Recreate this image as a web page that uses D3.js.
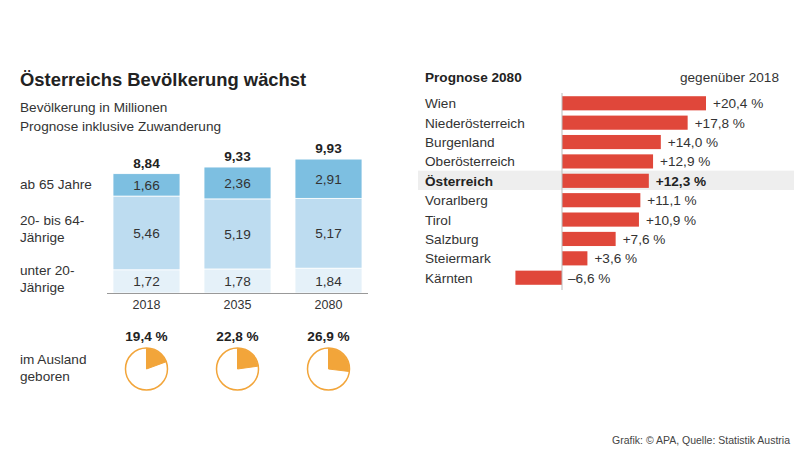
<!DOCTYPE html>
<html><head><meta charset="utf-8">
<script src="https://cdn.jsdelivr.net/npm/d3@7/dist/d3.min.js"></script>
<style>body{margin:0;background:#fff}svg{font-family:"Liberation Sans",Arial,sans-serif}</style>
</head><body>
<svg id="c" width="800" height="452"></svg>
<script>
const years = ["2018","2035","2080"];
const segments = ["unter 20-Jährige","20- bis 64-Jährige","ab 65 Jahre"];
const under20 = [1.72,1.78,1.84];
const age20to64 = [5.46,5.19,5.17];
const over65 = [1.66,2.36,2.91];
const totals = [8.84,9.33,9.93];
const foreignBorn = [19.4,22.8,26.9];
const regions = ["Wien","Niederösterreich","Burgenland","Oberösterreich","Österreich","Vorarlberg","Tirol","Salzburg","Steiermark","Kärnten"];
const change2080 = [20.4,17.8,14.0,12.9,12.3,11.1,10.9,7.6,3.6,-6.6];

const fmt = v => v.toFixed(2).replace(".", ",");
const fmt1 = v => v.toFixed(1).replace(".", ",");
const svg = d3.select("#c");
const txt = "#222";
const fs = 13.6;

// Left title
svg.append("text").attr("x",20).attr("y",86).attr("font-size",18.4).attr("font-weight","bold").attr("fill",txt).text("Österreichs Bevölkerung wächst");
svg.append("text").attr("x",20).attr("y",112).attr("font-size",fs).attr("fill","#333").text("Bevölkerung in Millionen");
svg.append("text").attr("x",20).attr("y",131).attr("font-size",fs).attr("fill","#333").text("Prognose inklusive Zuwanderung");

// stacked bars
const x = d3.scaleBand().domain(years).range([103.9,371.1]).paddingInner(0.264).paddingOuter(0.1);
const y = d3.scaleLinear().domain([0,10]).range([293,158]);
const data = years.map((yr,i)=>({yr, vals:[under20[i],age20to64[i],over65[i]], total:totals[i]}));
const stack = d3.stack().keys([0,1,2]).value((d,k)=>d.vals[k]);
const series = stack(data);
const colors = ["#e5f1f9","#bddcf0","#7dbfe1"];
series.forEach((s,k)=>{
  const g = svg.append("g");
  g.selectAll("rect").data(s).enter().append("rect")
    .attr("x",d=>x(d.data.yr)).attr("width",x.bandwidth())
    .attr("y",d=>y(d[1])).attr("height",d=>y(d[0])-y(d[1]))
    .attr("fill",colors[k]).attr("stroke","#fff").attr("stroke-width",0.8);
  g.selectAll("text").data(s).enter().append("text")
    .attr("x",d=>x(d.data.yr)+x.bandwidth()/2).attr("y",d=>(y(d[0])+y(d[1]))/2+5)
    .attr("text-anchor","middle").attr("font-size",fs).attr("fill","#333")
    .text(d=>fmt(d.data.vals[k]));
});
svg.selectAll(".tot").data(data).enter().append("text")
  .attr("x",d=>x(d.yr)+x.bandwidth()/2).attr("y",d=>y(d.total)-6)
  .attr("text-anchor","middle").attr("font-size",fs).attr("font-weight","bold").attr("fill",txt)
  .text(d=>fmt(d.total));
svg.append("line").attr("x1",107).attr("x2",368).attr("y1",293.5).attr("y2",293.5).attr("stroke","#999").attr("stroke-width",1);
const xAxis = d3.axisBottom(x).tickSize(0).tickPadding(7);
const ax = svg.append("g").attr("transform","translate(0,293)").call(xAxis);
ax.select(".domain").remove();
ax.selectAll("text").attr("font-size",12.5).attr("fill","#333").attr("font-family","Liberation Sans, Arial, sans-serif");

// row labels
const rowLab = [["ab 65 Jahre",189],["20- bis 64-",225],["Jährige",242],["unter 20-",275],["Jährige",292],["im Ausland",364],["geboren",381]];
svg.selectAll(".rl").data(rowLab).enter().append("text").attr("x",20).attr("y",d=>d[1])
  .attr("font-size",fs).attr("fill","#333").text(d=>d[0]);

// pies
const pctScale = d3.scaleLinear().domain([0,100]).range([0,2*Math.PI]);
const r = 21;
const arc = d3.arc().innerRadius(0).outerRadius(r-0.5);
years.forEach((yr,i)=>{
  const cx = x(yr)+x.bandwidth()/2, cy = 369;
  const g = svg.append("g").attr("transform",`translate(${cx},${cy})`);
  g.append("circle").attr("r",r).attr("fill","#fff").attr("stroke","#f2a53a").attr("stroke-width",1.5);
  g.append("path").attr("d",arc({startAngle:0,endAngle:pctScale(foreignBorn[i])})).attr("fill","#f2a53a").attr("stroke","#f2a53a").attr("stroke-width",1);
  svg.append("text").attr("x",cx).attr("y",341).attr("text-anchor","middle").attr("font-size",fs).attr("font-weight","bold").attr("fill",txt).text(fmt1(foreignBorn[i])+" %");
});

// Right chart
svg.append("text").attr("x",425).attr("y",82).attr("font-size",fs).attr("font-weight","bold").attr("fill",txt).text("Prognose 2080");
svg.append("text").attr("x",779).attr("y",82).attr("text-anchor","end").attr("font-size",fs).attr("fill","#333").text("gegenüber 2018");
const yb = d3.scaleBand().domain(regions).range([93.5,287.5]).paddingInner(0.27).paddingOuter(0.14);
const xb = d3.scaleLinear().domain([0,20.4]).range([562,706]);
const hi = "Österreich";
svg.append("rect").attr("x",418).attr("width",376).attr("y",yb(hi)-yb.step()*yb.paddingInner()/2-0.5).attr("height",yb.step()).attr("fill","#eeeeee");
svg.selectAll(".bar").data(regions).enter().append("rect")
  .attr("x",(d,i)=>xb(Math.min(0,change2080[i]))).attr("width",(d,i)=>Math.abs(xb(change2080[i])-xb(0)))
  .attr("y",d=>yb(d)).attr("height",yb.bandwidth()).attr("fill","#e0473a");
svg.append("line").attr("x1",562).attr("x2",562).attr("y1",93).attr("y2",290).attr("stroke","#bbb").attr("stroke-width",1);
svg.selectAll(".rlab").data(regions).enter().append("text")
  .attr("x",425).attr("y",d=>yb(d)+yb.bandwidth()/2+5).attr("font-size",fs)
  .attr("font-weight",d=>d===hi?"bold":"normal").attr("fill",d=>d===hi?txt:"#333").text(d=>d);
svg.selectAll(".vlab").data(regions).enter().append("text")
  .attr("x",(d,i)=>change2080[i]>=0?xb(change2080[i])+7:xb(0)+6)
  .attr("y",d=>yb(d)+yb.bandwidth()/2+5).attr("font-size",fs)
  .attr("font-weight",d=>d===hi?"bold":"normal").attr("fill",d=>d===hi?txt:"#333")
  .text((d,i)=>(change2080[i]>=0?"+":"–")+fmt1(Math.abs(change2080[i]))+" %");

svg.append("text").attr("x",790).attr("y",444).attr("text-anchor","end").attr("font-size",10.5).attr("fill","#444").text("Grafik: © APA, Quelle: Statistik Austria");
</script>
</body></html>
